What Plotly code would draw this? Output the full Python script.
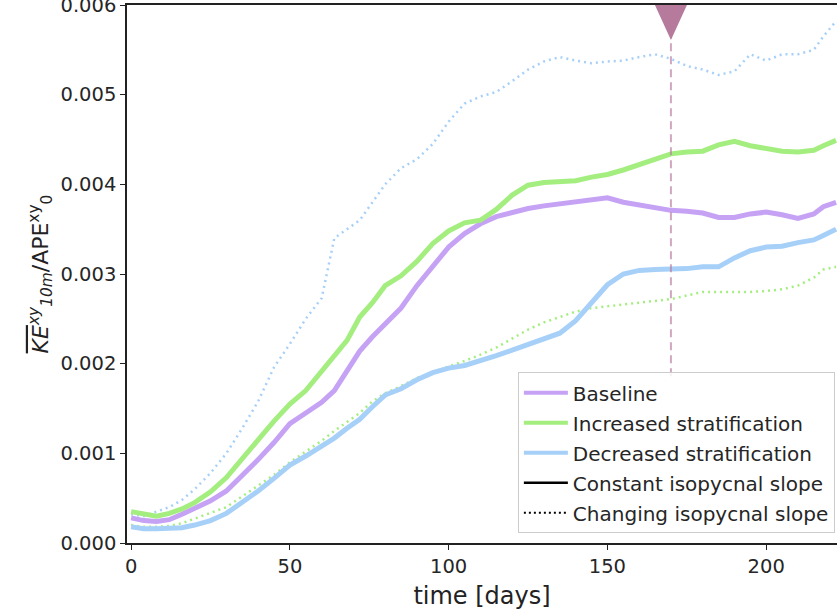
import plotly.graph_objects as go

# ---- data ----
days = [0, 4, 8, 12, 16, 20, 25, 30, 35, 40, 45, 50, 55, 60, 64, 68, 72, 76, 80, 85,
        90, 95, 100, 105, 110, 115, 120, 125, 130, 135, 140, 145, 150, 155, 160, 165,
        170, 175, 180, 185, 190, 195, 200, 205, 210, 215, 218, 222]

baseline = [0.00028, 0.00025, 0.00024, 0.00026, 0.00032, 0.00038, 0.00047, 0.00058, 0.00075, 0.00093,
            0.00112, 0.00133, 0.00145, 0.00157, 0.00170, 0.00192, 0.00214, 0.00230, 0.00245, 0.00262,
            0.00287, 0.00308, 0.00330, 0.00345, 0.00356, 0.00364, 0.00369, 0.00373, 0.00376, 0.00378,
            0.00380, 0.00382, 0.00385, 0.00380, 0.00377, 0.00374, 0.00371, 0.00370, 0.00368, 0.00363,
            0.00363, 0.00367, 0.00369, 0.00366, 0.00362, 0.00367, 0.00375, 0.00380]

increased_const = [0.00035, 0.00032, 0.00030, 0.00033, 0.00038, 0.00045, 0.00057, 0.00073, 0.00093, 0.00115,
                   0.00136, 0.00155, 0.00170, 0.00192, 0.00208, 0.00226, 0.00252, 0.00268, 0.00287, 0.00298,
                   0.00314, 0.00334, 0.00348, 0.00357, 0.00360, 0.00372, 0.00388, 0.00399, 0.00402, 0.00403,
                   0.00404, 0.00408, 0.00411, 0.00416, 0.00422, 0.00428, 0.00434, 0.00436, 0.00437, 0.00444,
                   0.00448, 0.00443, 0.00440, 0.00437, 0.00436, 0.00438, 0.00443, 0.00449]

decreased_const = [0.00018, 0.00016, 0.00016, 0.00016, 0.00017, 0.00020, 0.00025, 0.00033, 0.00045, 0.00058,
                   0.00072, 0.00087, 0.00097, 0.00108, 0.00117, 0.00128, 0.00138, 0.00152, 0.00165, 0.00172,
                   0.00182, 0.00190, 0.00195, 0.00198, 0.00203, 0.00209, 0.00215, 0.00221, 0.00227, 0.00234,
                   0.00248, 0.00268, 0.00288, 0.00300, 0.00304, 0.00305, 0.00305, 0.00306, 0.00308, 0.00308,
                   0.00318, 0.00326, 0.00330, 0.00331, 0.00335, 0.00338, 0.00343, 0.00350]

increased_chg = [0.00020, 0.00018, 0.00018, 0.00019, 0.00022, 0.00027, 0.00033, 0.00040, 0.00052, 0.00064,
                 0.00076, 0.00090, 0.00102, 0.00114, 0.00125, 0.00135, 0.00145, 0.00158, 0.00167, 0.00175,
                 0.00184, 0.00190, 0.00197, 0.00203, 0.00210, 0.00218, 0.00228, 0.00238, 0.00246, 0.00252,
                 0.00258, 0.00262, 0.00264, 0.00266, 0.00268, 0.00270, 0.00272, 0.00276, 0.00280, 0.00280,
                 0.00280, 0.00280, 0.00281, 0.00283, 0.00287, 0.00296, 0.00305, 0.00308]

decreased_chg = [0.00032, 0.00030, 0.00035, 0.00040, 0.00048, 0.00060, 0.00078, 0.00100, 0.00128, 0.00158,
                 0.00196, 0.00222, 0.00250, 0.00273, 0.00340, 0.00350, 0.00360, 0.00380, 0.00400, 0.00418,
                 0.00428, 0.00445, 0.00470, 0.00490, 0.00498, 0.00503, 0.00515, 0.00528, 0.00537, 0.00542,
                 0.00538, 0.00535, 0.00537, 0.00538, 0.00542, 0.00545, 0.00540, 0.00532, 0.00528, 0.00522,
                 0.00526, 0.00545, 0.00538, 0.00545, 0.00545, 0.00550, 0.00565, 0.00582]

event_day = 170
x_ticks = [0, 50, 100, 150, 200]
y_ticks = [0.000, 0.001, 0.002, 0.003, 0.004, 0.005, 0.006]

legend_labels = ["Baseline", "Increased stratification", "Decreased stratification",
                 "Constant isopycnal slope", "Changing isopycnal slope"]

# ---- styles ----
C_BASE = "#c6a2f5"
C_INC = "#a4ee80"
C_DEC = "#a7d0f8"
C_EVENT = "#b57a9c"
FONT = "DejaVu Sans"

fig = go.Figure()

def add(y, color, dotted):
    fig.add_trace(go.Scatter(
        x=days, y=y, mode="lines", showlegend=False, hoverinfo="skip",
        line=dict(color=color, width=2.5 if dotted else 5,
                  dash="2px,4px" if dotted else "solid")))

add(decreased_chg, C_DEC, True)
add(increased_chg, C_INC, True)
add(decreased_const, C_DEC, False)
add(baseline, C_BASE, False)
add(increased_const, C_INC, False)

# legend entries
leg_styles = [(C_BASE, 4, "solid"), (C_INC, 4, "solid"), (C_DEC, 4, "solid"),
              ("black", 2.5, "solid"), ("black", 2, "2px,3px")]
for i, (lab, (c, w, d)) in enumerate(zip(legend_labels, leg_styles)):
    fig.add_trace(go.Scatter(x=[None], y=[None], mode="lines", name=lab,
                             legendgroup=str(i), line=dict(color=c, width=w, dash=d)))

# event marker
fig.add_shape(type="line", xref="x", yref="paper", x0=event_day, x1=event_day,
              y0=0.31, y1=1, line=dict(color="rgba(181,122,156,0.65)", width=2, dash="8px,5px"),
              layer="above")
fig.add_shape(type="path", xref="x", yref="y", xsizemode="pixel", ysizemode="pixel",
              xanchor=event_day, yanchor=y_ticks[-1],
              path="M-16,0 L16,0 L0,-35 Z", fillcolor=C_EVENT, line=dict(width=0),
              layer="above")

axis_font = dict(family=FONT, size=19.5, color="#262626")
fig.update_layout(
    width=837, height=613,
    margin=dict(l=127, r=0, t=5, b=70, autoexpand=False),
    paper_bgcolor="white", plot_bgcolor="white",
    font=dict(family=FONT),
    xaxis=dict(range=[-1.3, 222.3], tickvals=x_ticks, ticks="outside", ticklen=5,
               tickwidth=1.2, tickcolor="#222", showline=True, linecolor="#222",
               linewidth=1.5, mirror=True, showgrid=False, zeroline=False,
               tickfont=axis_font, ticklabeloverflow="allow", automargin=False,
               title=dict(text="time [days]", font=dict(family=FONT, size=24, color="#222"),
                          standoff=10)),
    yaxis=dict(range=[0, 0.006], tickvals=y_ticks, tickformat=".3f", ticks="outside",
               ticklen=5, tickwidth=1.2, tickcolor="#222", showline=True, linecolor="#222",
               linewidth=1.5, showgrid=False, zeroline=False, tickfont=axis_font,
               ticklabeloverflow="allow", automargin=False,
               title=dict(text='<span style="text-decoration:overline"><i>KE</i></span>'
                               '<sup><i>xy</i></sup><sub><i>10m</i></sub>/APE<sup>xy</sup><sub>0</sub>',
                          font=dict(family=FONT, size=22, color="#222"), standoff=6)),
    legend=dict(x=0.997, xanchor="right", y=0.018, yanchor="bottom",
                bgcolor="rgba(255,255,255,0.85)", bordercolor="#cccccc", borderwidth=1,
                font=dict(family=FONT, size=20, color="#262626"), tracegroupgap=1,
                itemwidth=44),
)

fig.write_html("out.html")
